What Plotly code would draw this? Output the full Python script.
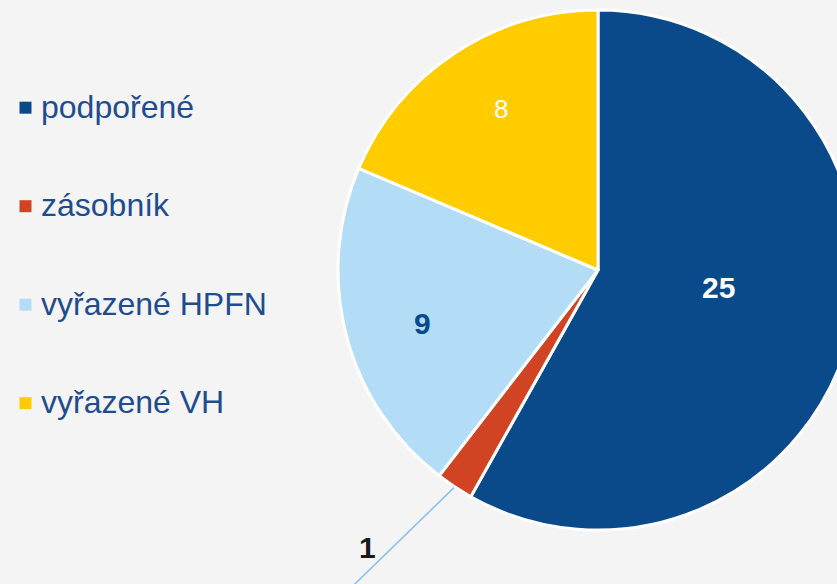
import math
import plotly.graph_objects as go

# ---- data ----
labels = ["podpořené", "zásobník", "vyřazené HPFN", "vyřazené VH"]
values = [25, 1, 9, 8]

# ---- style ----
colors = ["#0B4A8A", "#D04423", "#B3DDF7", "#FFCC00"]
label_colors = ["#FFFFFF", "#1A1A1A", "#0B4A8A", "#FFFFFF"]
label_bold = [True, True, True, False]
label_sizes = [30, 30, 30, 26]
label_rfrac = [0.47, 1.387, 0.704, 0.723]
label_shift = [-6.2, 6.3, -2.35, 2.4]
legend_text_color = "#1E4C8F"
bg = "#F4F4F4"

W, H = 900, 584
cx, cy, R = 598, 270, 260

fig = go.Figure(go.Pie(
    labels=labels, values=values, sort=False, direction="clockwise", rotation=0,
    marker=dict(colors=colors, line=dict(color="white", width=3)),
    textinfo="none", hoverinfo="label+value", showlegend=False,
    domain=dict(x=[(cx - R) / W, (cx + R) / W], y=[(H - cy - R) / H, (H - cy + R) / H]),
))

total = sum(values)
annotations = []
shapes = []
cum = 0
for i, v in enumerate(values):
    mid = (cum + v / 2) / total * 360
    cum += v
    th = math.radians(mid + label_shift[i])
    px = cx + label_rfrac[i] * R * math.sin(th)
    py = cy - label_rfrac[i] * R * math.cos(th)
    txt = str(v)
    if label_bold[i]:
        txt = "<b>" + txt + "</b>"
    annotations.append(dict(
        x=px / W, y=1 - py / H, xref="paper", yref="paper", text=txt, showarrow=False,
        xanchor="center", yanchor="middle",
        font=dict(family="Liberation Sans, Arial, sans-serif", size=label_sizes[i], color=label_colors[i]),
    ))
    if label_rfrac[i] > 1:
        # leader line for outside label, starting at slice mid-point on the rim
        thm = math.radians(mid)
        sx = cx + (R + 1) * math.sin(thm)
        sy = cy - (R + 1) * math.cos(thm)
        shapes.append(dict(type="line", xref="paper", yref="paper",
                           x0=sx / W, y0=1 - sy / H, x1=(sx - 140) / W, y1=1 - (sy + 136) / H,
                           line=dict(color="#8CC2F0", width=1.6)))

# custom legend
for i, lab in enumerate(labels):
    yc = 107.7 + i * 98.5
    shapes.append(dict(type="rect", xref="paper", yref="paper",
                       x0=19.5 / W, x1=31.5 / W, y0=1 - (yc - 6) / H, y1=1 - (yc + 6) / H,
                       fillcolor=colors[i], line=dict(width=0)))
    annotations.append(dict(
        x=39 / W, y=1 - (yc - 1) / H, xref="paper", yref="paper", text=lab, showarrow=False,
        xanchor="left", yanchor="middle",
        font=dict(family="Liberation Sans, Arial, sans-serif", size=32, color=legend_text_color),
    ))

fig.update_layout(
    width=W, height=H, margin=dict(l=0, r=0, t=0, b=0),
    paper_bgcolor=bg, plot_bgcolor=bg,
    annotations=annotations, shapes=shapes, showlegend=False,
)

fig.write_html("out.html", post_script=(
    "document.body.style.margin='0';document.body.style.overflow='hidden';"
    "document.documentElement.style.overflow='hidden';"
    "document.body.style.background='" + bg + "';"
))
